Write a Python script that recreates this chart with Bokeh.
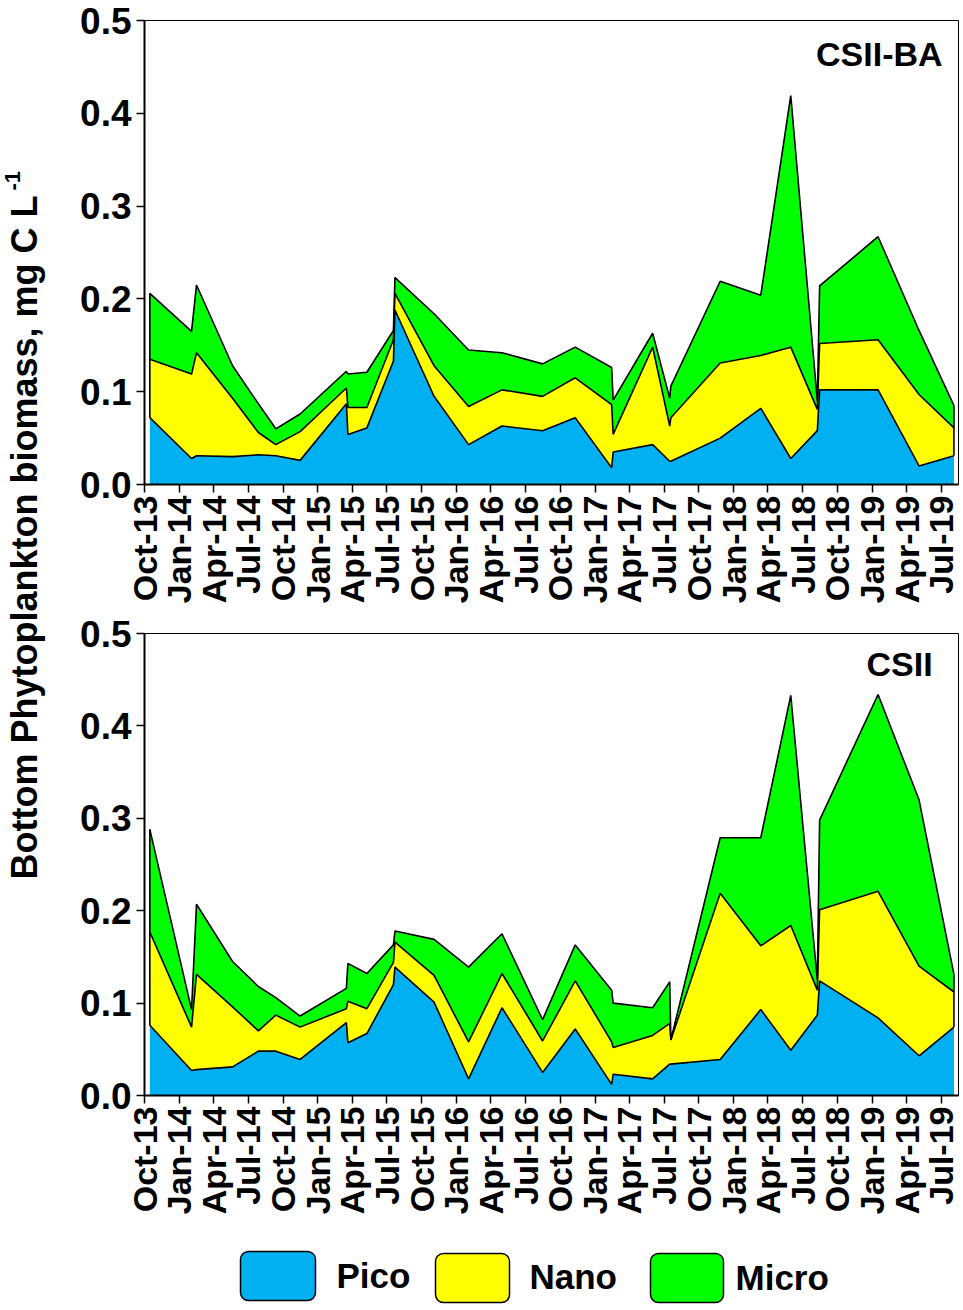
import math
import pandas as pd
from bokeh.plotting import figure
from bokeh.layouts import column, row
from bokeh.models import (ColumnDataSource, Range1d, FixedTicker, MonthsTicker,
                          DatetimeTickFormatter, PrintfTickFormatter, Label)
from bokeh.core.properties import value
from bokeh.embed import file_html
from bokeh.resources import INLINE

# ---------------- data ----------------
dates = ["2013-10-15", "2014-02-02", "2014-02-15", "2014-05-21", "2014-07-28",
         "2014-09-12", "2014-11-15", "2015-03-17", "2015-03-21", "2015-05-10",
         "2015-07-19", "2015-07-23", "2015-11-03", "2016-02-02", "2016-04-30",
         "2016-08-15", "2016-11-09", "2017-02-13", "2017-02-17", "2017-06-01",
         "2017-07-16", "2017-07-19", "2017-11-26", "2018-03-13", "2018-05-31",
         "2018-08-09", "2018-08-15", "2019-01-16", "2019-05-04", "2019-08-04"]

series = ["Pico", "Nano", "Micro"]

# Panel 1: CSII-BA (mg C L-1)
ba_pico = [0.072, 0.028, 0.031, 0.030, 0.032, 0.031, 0.026, 0.087, 0.054, 0.061,
           0.133, 0.188, 0.095, 0.043, 0.063, 0.058, 0.072, 0.018, 0.035, 0.043,
           0.025, 0.025, 0.050, 0.082, 0.028, 0.058, 0.102, 0.102, 0.020, 0.031]
ba_nano = [0.063, 0.091, 0.111, 0.063, 0.024, 0.012, 0.031, 0.017, 0.029, 0.022,
           0.023, 0.018, 0.033, 0.041, 0.039, 0.037, 0.043, 0.068, 0.019, 0.105,
           0.038, 0.047, 0.081, 0.057, 0.120, 0.023, 0.050, 0.054, 0.077, 0.030]
ba_micro = [0.071, 0.046, 0.073, 0.035, 0.031, 0.017, 0.019, 0.018, 0.036, 0.038,
            0.010, 0.017, 0.056, 0.061, 0.040, 0.035, 0.033, 0.040, 0.037, 0.015,
            0.030, 0.034, 0.088, 0.065, 0.271, 0.009, 0.062, 0.111, 0.069, 0.024]

# Panel 2: CSII (mg C L-1)
cs_pico = [0.076, 0.027, 0.028, 0.031, 0.048, 0.048, 0.039, 0.079, 0.057, 0.067,
           0.120, 0.139, 0.101, 0.018, 0.095, 0.025, 0.072, 0.012, 0.023, 0.018,
           0.034, 0.034, 0.039, 0.093, 0.049, 0.087, 0.124, 0.084, 0.043, 0.074]
cs_nano = [0.101, 0.047, 0.103, 0.065, 0.022, 0.039, 0.035, 0.015, 0.045, 0.027,
           0.024, 0.027, 0.029, 0.040, 0.037, 0.034, 0.052, 0.046, 0.029, 0.047,
           0.044, 0.026, 0.180, 0.069, 0.135, 0.027, 0.077, 0.137, 0.097, 0.038]
cs_micro = [0.111, 0.019, 0.076, 0.049, 0.048, 0.019, 0.012, 0.022, 0.041, 0.038,
            0.019, 0.012, 0.039, 0.081, 0.043, 0.023, 0.039, 0.056, 0.048, 0.030,
            0.045, 0.000, 0.060, 0.117, 0.249, 0.011, 0.097, 0.213, 0.180, 0.019]

y_ticks = [0.0, 0.1, 0.2, 0.3, 0.4, 0.5]
y_label = "Bottom Phytoplankton biomass, mg C L"
y_label_sup = "-1"
colors = ["#00B0F0", "#FFFF00", "#00FF00"]

FONT = "Liberation Sans"
x_start = pd.Timestamp("2013-10-01")
x_end = pd.Timestamp("2019-08-16")


def ms(ts):
    return pd.Timestamp(ts).timestamp() * 1000.0


def make_panel(pico, nano, micro, title, title_x, title_y, height, btop, bbot):
    d = pd.to_datetime(dates)
    src = ColumnDataSource(dict(date=d, Pico=pico, Nano=nano, Micro=micro))
    p = figure(width=913, height=height, x_axis_type="datetime",
               x_range=Range1d(x_start, x_end), y_range=Range1d(0, 0.5),
               output_backend="svg", toolbar_location=None,
               min_border_left=94, min_border_right=5,
               min_border_top=btop, min_border_bottom=bbot)
    p.varea_stack(series, x="date", source=src, color=colors)
    p.vline_stack(series, x="date", source=src, color="black", line_width=1.6)
    tot = [a + b + c for a, b, c in zip(pico, nano, micro)]
    p.segment(x0=[d[0], d[-1]], y0=[pico[0], pico[-1]],
              x1=[d[0], d[-1]], y1=[tot[0], tot[-1]],
              color="black", line_width=1.6)

    p.xgrid.visible = False
    p.ygrid.visible = False
    p.outline_line_color = "black"
    p.outline_line_width = 1

    # Bokeh months are 0-based: 0=Jan, 3=Apr, 6=Jul, 9=Oct
    p.xaxis.ticker = MonthsTicker(months=[0, 3, 6, 9])
    p.xaxis.formatter = DatetimeTickFormatter(days="%b-%y", months="%b-%y",
                                              years="%b-%y")
    p.xaxis.major_label_orientation = math.pi / 2
    p.yaxis.ticker = FixedTicker(ticks=y_ticks)
    p.yaxis.formatter = PrintfTickFormatter(format="%.1f")
    for ax in (p.xaxis, p.yaxis):
        ax.axis_line_width = 2
        ax.axis_line_color = "black"
        ax.major_tick_line_width = 1.5
        ax.major_tick_out = 8
        ax.major_tick_in = 0
        ax.minor_tick_line_color = None
        ax.major_label_text_font = FONT
        ax.major_label_text_font_style = "bold"
        ax.major_label_text_color = "black"
    p.xaxis.major_label_text_font_size = "34px"
    p.yaxis.major_label_text_font_size = "37px"
    p.xaxis.major_label_standoff = 3
    p.yaxis.major_label_standoff = 5

    p.add_layout(Label(x=ms(title_x), y=title_y, text=title, text_font=FONT,
                       text_font_style="bold", text_font_size="34px",
                       text_color="black",
                       text_align="right", text_baseline="top"))
    return p


top = make_panel(ba_pico, ba_nano, ba_micro, "CSII-BA", "2019-07-05", 0.484,
                 612, 20, 128)
bot = make_panel(cs_pico, cs_nano, cs_micro, "CSII", "2019-06-09", 0.488,
                 614, 21, 131)

# y-axis title column
H = 1226
lab = figure(width=50, height=H, x_range=Range1d(0, 50), y_range=Range1d(H, 0),
             output_backend="svg", toolbar_location=None, min_border=0,
             x_axis_location=None, y_axis_location=None)
lab.xgrid.visible = False
lab.ygrid.visible = False
lab.outline_line_color = None
lab.text(x=[24], y=[537], text=[y_label], angle=math.pi / 2,
         text_align="center", text_baseline="middle", text_font=value(FONT),
         text_font_style="bold", text_font_size="36px", text_color="black")
lab.text(x=[12], y=[190], text=[y_label_sup], angle=math.pi / 2,
         text_align="left", text_baseline="middle", text_font=value(FONT),
         text_font_style="bold", text_font_size="22px", text_color="black")

# legend strip
leg = figure(width=963, height=1310 - H, x_range=Range1d(0, 963),
             y_range=Range1d(1310, H), output_backend="svg",
             toolbar_location=None, min_border=0,
             x_axis_location=None, y_axis_location=None)
leg.xgrid.visible = False
leg.ygrid.visible = False
leg.outline_line_color = None
leg.quad(left=[240, 435, 650], right=[315, 509, 723], top=[1251, 1253, 1253],
         bottom=[1300, 1302, 1302], fill_color=colors, line_color="black",
         line_width=1.5, border_radius=8)
leg.text(x=[336, 529, 735], y=[1275, 1276, 1277], text=series,
         text_align="left", text_baseline="middle",
         text_font=value(FONT), text_font_style="bold",
         text_font_size="35px", text_color="black")

layout = column(row(lab, column(top, bot)), leg)
open("out.html", "w").write(file_html(layout, INLINE))
